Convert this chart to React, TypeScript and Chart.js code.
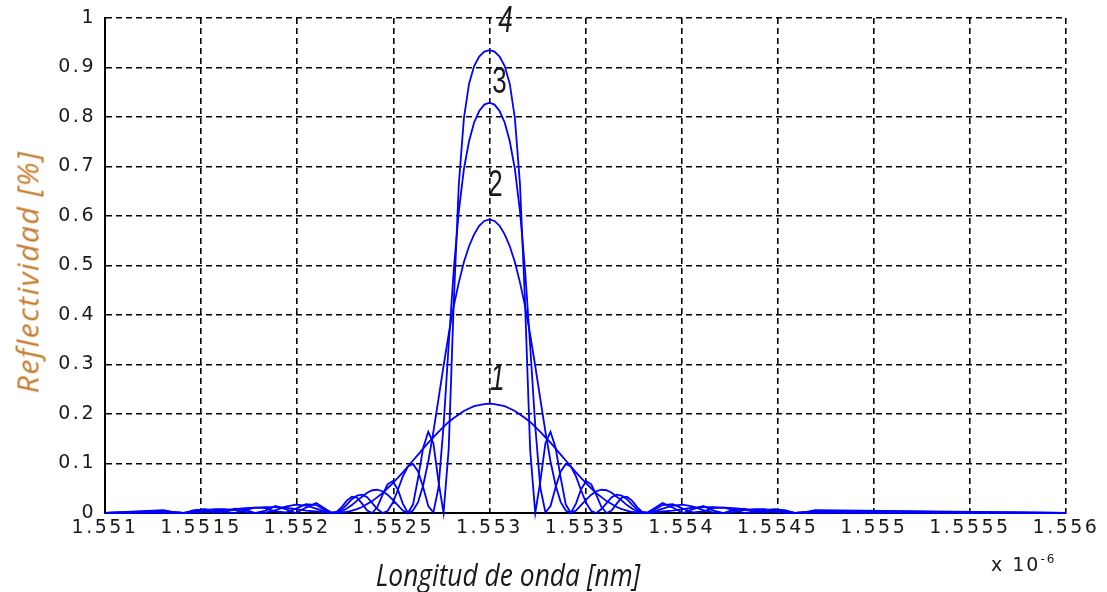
import React, { useEffect, useRef } from "react";
import { Chart, registerables } from "chart.js";

Chart.register(...registerables);

// Wavelength samples (x 10^-6 m)
const wavelength = [
  1.551,
  1.551304, 1.551357, 1.55141, 1.551463, 1.551516, 1.551569, 1.551622, 1.551675,
  1.551728, 1.551781, 1.551834, 1.551887, 1.55194, 1.551993, 1.552046, 1.552099,
  1.552152, 1.5521785, 1.552205, 1.5522315, 1.552258, 1.5522845, 1.552311, 1.5523375,
  1.552364, 1.5523905, 1.552417, 1.5524435, 1.55247, 1.5524965, 1.552523, 1.5525495,
  1.552576, 1.5526025, 1.552629, 1.5526555, 1.552682, 1.5527085, 1.552735, 1.5527615,
  1.552788, 1.5528145, 1.552841, 1.5528675, 1.552894, 1.5529205, 1.552947, 1.5529735,
  1.553,
  1.5530265, 1.553053, 1.5530795, 1.553106, 1.5531325, 1.553159, 1.5531855, 1.553212,
  1.5532385, 1.553265, 1.5532915, 1.553318, 1.5533445, 1.553371, 1.5533975, 1.553424,
  1.5534505, 1.553477, 1.5535035, 1.55353, 1.5535565, 1.553583, 1.5536095, 1.553636,
  1.5536625, 1.553689, 1.5537155, 1.553742, 1.5537685, 1.553795, 1.5538215, 1.553848,
  1.553901, 1.553954, 1.554007, 1.55406, 1.554113, 1.554166, 1.554219, 1.554272,
  1.554325, 1.554378, 1.554431, 1.554484, 1.554537, 1.55459, 1.554643, 1.554696,
  1.556,
];

const reflectivity1 = [
  0,
  0.001, 0.000, 0.000, 0.001, 0.002, 0.003, 0.006, 0.008, 0.010, 0.011, 0.012, 0.012, 0.011, 0.008, 0.005, 0.003,
  0.001, 0.000, 0.000, 0.001, 0.002, 0.005, 0.008, 0.012, 0.018, 0.024, 0.032, 0.040, 0.050, 0.060, 0.071, 0.082,
  0.094, 0.106, 0.118, 0.130, 0.142, 0.153, 0.164, 0.174, 0.184, 0.192, 0.199, 0.206, 0.211, 0.216, 0.218, 0.220,
  0.221,
  0.220, 0.218, 0.216, 0.211, 0.206, 0.199, 0.192, 0.184, 0.174, 0.164, 0.153, 0.142, 0.130, 0.118, 0.106, 0.094,
  0.082, 0.071, 0.060, 0.050, 0.040, 0.032, 0.024, 0.018, 0.012, 0.008, 0.005, 0.002, 0.001, 0.000, 0.000, 0.001,
  0.003, 0.005, 0.008, 0.011, 0.012, 0.012, 0.011, 0.010, 0.008, 0.006, 0.003, 0.002, 0.001, 0.000, 0.000, 0.001,
  0,
];

const reflectivity2 = [
  0,
  0.002, 0.001, 0.000, 0.002, 0.005, 0.008, 0.008, 0.006, 0.002, 0.000, 0.001, 0.006, 0.013, 0.017, 0.015, 0.009,
  0.002, 0.000, 0.001, 0.003, 0.009, 0.016, 0.025, 0.033, 0.041, 0.046, 0.047, 0.044, 0.037, 0.027, 0.016, 0.005,
  0.000, 0.005, 0.022, 0.056, 0.104, 0.164, 0.230, 0.297, 0.361, 0.418, 0.466, 0.507, 0.539, 0.563, 0.580, 0.590,
  0.593,
  0.590, 0.580, 0.563, 0.539, 0.507, 0.466, 0.418, 0.361, 0.297, 0.230, 0.164, 0.104, 0.056, 0.022, 0.005, 0.000,
  0.005, 0.016, 0.027, 0.037, 0.044, 0.047, 0.046, 0.041, 0.033, 0.025, 0.016, 0.009, 0.003, 0.001, 0.000, 0.002,
  0.009, 0.015, 0.017, 0.013, 0.006, 0.001, 0.000, 0.002, 0.006, 0.008, 0.008, 0.005, 0.002, 0.000, 0.001, 0.002,
  0,
];

const reflectivity3 = [
  0,
  0.004, 0.001, 0.000, 0.004, 0.008, 0.006, 0.002, 0.000, 0.006, 0.011, 0.010, 0.003, 0.001, 0.009, 0.018, 0.016,
  0.004, 0.000, 0.001, 0.007, 0.017, 0.028, 0.035, 0.037, 0.032, 0.020, 0.008, 0.000, 0.004, 0.020, 0.046, 0.074,
  0.094, 0.099, 0.084, 0.052, 0.014, 0.001, 0.051, 0.176, 0.339, 0.491, 0.610, 0.695, 0.751, 0.789, 0.812, 0.825,
  0.829,
  0.825, 0.812, 0.789, 0.751, 0.695, 0.610, 0.491, 0.339, 0.176, 0.051, 0.001, 0.014, 0.052, 0.084, 0.099, 0.094,
  0.074, 0.046, 0.020, 0.004, 0.000, 0.008, 0.020, 0.032, 0.037, 0.035, 0.028, 0.017, 0.007, 0.001, 0.000, 0.004,
  0.016, 0.018, 0.009, 0.001, 0.003, 0.010, 0.011, 0.006, 0.000, 0.002, 0.006, 0.008, 0.004, 0.000, 0.001, 0.004,
  0,
];

const reflectivity4 = [
  0,
  0.006, 0.002, 0.000, 0.006, 0.007, 0.001, 0.002, 0.009, 0.007, 0.000, 0.005, 0.014, 0.008, 0.000, 0.011, 0.020,
  0.007, 0.001, 0.002, 0.012, 0.025, 0.033, 0.031, 0.019, 0.005, 0.000, 0.012, 0.036, 0.058, 0.064, 0.048, 0.019,
  0.000, 0.017, 0.071, 0.132, 0.164, 0.141, 0.064, 0.000, 0.128, 0.425, 0.665, 0.798, 0.867, 0.903, 0.922, 0.932,
  0.935,
  0.932, 0.922, 0.903, 0.867, 0.798, 0.665, 0.425, 0.128, 0.000, 0.064, 0.141, 0.164, 0.132, 0.071, 0.017, 0.000,
  0.019, 0.048, 0.064, 0.058, 0.036, 0.012, 0.000, 0.005, 0.019, 0.031, 0.033, 0.025, 0.012, 0.002, 0.001, 0.007,
  0.020, 0.011, 0.000, 0.008, 0.014, 0.005, 0.000, 0.007, 0.009, 0.002, 0.001, 0.007, 0.006, 0.000, 0.002, 0.006,
  0,
];

const seriesNames = ["1", "2", "3", "4"];
const peakWavelength = 1.553;

const xTickValues = [1.551, 1.5515, 1.552, 1.5525, 1.553, 1.5535, 1.554, 1.5545, 1.555, 1.5555, 1.556];
const xTickLabels = ["1.551", "1.5515", "1.552", "1.5525", "1.553", "1.5535", "1.554", "1.5545", "1.555", "1.5555", "1.556"];
const yTickValues = [0, 0.1, 0.2, 0.3, 0.4, 0.5, 0.6, 0.7, 0.8, 0.9, 1];
const yTickLabels = ["0", "0.1", "0.2", "0.3", "0.4", "0.5", "0.6", "0.7", "0.8", "0.9", "1"];

const xTitle = "Longitud de onda [nm]";
const yTitle = "Reflectividad [%]";

// label styling (offsets in px from each peak)
const labelStyle = [
  { dx: 8, dy: 24, italic: true },
  { dx: 6, dy: 33, italic: false },
  { dx: 10, dy: 20, italic: false },
  { dx: 16, dy: 28, italic: true },
];

export default function App() {
  const ref = useRef<HTMLCanvasElement>(null);

  useEffect(() => {
    const canvas = ref.current;
    if (!canvas) return;
    const series = [reflectivity1, reflectivity2, reflectivity3, reflectivity4];

    const datasets = series.map((ys, i) => ({
      label: seriesNames[i],
      data: wavelength.map((x, j) => ({ x, y: ys[j] })),
      borderColor: "#0000ff",
      backgroundColor: "#0000ff",
      borderWidth: 1.8,
      pointRadius: 0,
      tension: 0,
      fill: false,
      clip: false as const,
    }));

    const spacingPlugin = {
      id: "tickSpacing",
      beforeDraw(chart: any) {
        chart.ctx.letterSpacing = "2.5px";
      },
      afterDraw(chart: any) {
        const ctx = chart.ctx;
        ctx.letterSpacing = "0px";
        const xs = chart.scales.x;
        const ysc = chart.scales.y;
        series.forEach((vals, i) => {
          const peak = Math.max(...vals);
          const st = labelStyle[i];
          const px = xs.getPixelForValue(peakWavelength) + st.dx;
          const py = ysc.getPixelForValue(peak) - st.dy;
          ctx.save();
          ctx.translate(px, py);
          ctx.scale(0.72, 1);
          ctx.font = `${st.italic ? "italic " : ""}36px "Liberation Sans"`;
          ctx.textAlign = "center";
          ctx.textBaseline = "middle";
          ctx.fillStyle = "#1a1a1a";
          ctx.fillText(seriesNames[i], 0, 0);
          ctx.restore();
        });
      },
    };

    const chart = new Chart(canvas, {
      type: "line",
      data: { datasets },
      options: {
        animation: false,
        responsive: false,
        devicePixelRatio: 1,
        layout: { padding: { top: 18, right: 41, left: 0, bottom: 0 } },
        plugins: { legend: { display: false }, tooltip: { enabled: false } },
        scales: {
          x: {
            type: "linear",
            min: 1.551,
            max: 1.556,
            afterBuildTicks: (scale: any) => {
              scale.ticks = xTickValues.map((v) => ({ value: v }));
            },
            afterFit: (scale: any) => {
              scale.height = 79;
              scale.paddingLeft = 0;
              scale.paddingRight = 0;
            },
            grid: { color: "#000", lineWidth: 1.6, drawTicks: false },
            border: { display: true, color: "#000", width: 2, dash: [6, 4] },
            ticks: {
              autoSkip: false,
              maxRotation: 0,
              padding: 4,
              color: "#1a1a1a",
              font: { family: "DejaVu Sans", size: 19 },
              callback: (_v: any, i: number) => xTickLabels[i],
            },
          },
          y: {
            type: "linear",
            min: 0,
            max: 1,
            afterBuildTicks: (scale: any) => {
              scale.ticks = yTickValues.map((v) => ({ value: v }));
            },
            afterFit: (scale: any) => {
              scale.width = 105;
              scale.paddingTop = 0;
              scale.paddingBottom = 0;
            },
            grid: { color: "#000", lineWidth: 1.6, drawTicks: false },
            border: { display: true, color: "#000", width: 2, dash: [6, 4] },
            ticks: {
              padding: 9,
              color: "#1a1a1a",
              font: { family: "DejaVu Sans", size: 19 },
              callback: (_v: any, i: number) => yTickLabels[i],
            },
          },
        },
      },
      plugins: [spacingPlugin],
    });

    return () => chart.destroy();
  }, []);

  return (
    <div
      style={{
        position: "fixed",
        left: 0,
        top: 0,
        width: 1107,
        height: 592,
        background: "#fff",
        overflow: "hidden",
      }}
    >
      <canvas ref={ref} width={1107} height={592} style={{ position: "absolute", left: 0, top: 0 }} />
      <div
        style={{
          position: "absolute",
          left: 27,
          top: 272,
          transform: "translate(-50%, -50%) rotate(-90deg)",
          whiteSpace: "nowrap",
          font: 'italic 30px "Open Sans"',
          letterSpacing: "1.5px",
          color: "#c47a2c",
        }}
      >
        {yTitle}
      </div>
      <div
        style={{
          position: "absolute",
          left: 508,
          top: 574,
          transform: "translate(-50%, -50%) scaleX(0.85)",
          whiteSpace: "nowrap",
          font: 'italic 31px "Open Sans"',
          color: "#1a1a1a",
        }}
      >
        {xTitle}
      </div>
      <div
        style={{
          position: "absolute",
          left: 991,
          top: 553,
          whiteSpace: "nowrap",
          font: '19px "DejaVu Sans"',
          letterSpacing: "2px",
          color: "#1a1a1a",
        }}
      >
        x 10<sup style={{ fontSize: 12, position: "relative", top: -1 }}>-6</sup>
      </div>
    </div>
  );
}
